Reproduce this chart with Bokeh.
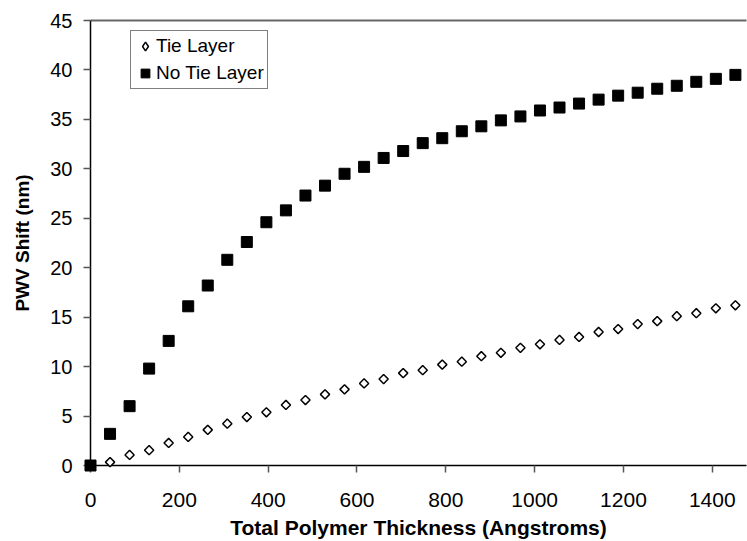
import math
from bokeh.plotting import figure
from bokeh.models import (ColumnDataSource, Range1d, FixedTicker, LinearAxis,
                          Legend, LegendItem)
from bokeh.embed import file_html
from bokeh.resources import INLINE

# ---- data ----
thickness = [0, 44, 88, 132, 176, 220, 264, 308, 352, 396, 440, 484, 528, 572,
             616, 660, 704, 748, 792, 836, 880, 924, 968, 1012, 1056, 1100,
             1144, 1188, 1232, 1276, 1320, 1364, 1408, 1452]
tie_layer = [0, 0.34, 1.07, 1.55, 2.28, 2.89, 3.6, 4.23, 4.9, 5.38, 6.12, 6.62,
             7.19, 7.7, 8.3, 8.74, 9.34, 9.64, 10.2, 10.5, 11.05, 11.4, 11.9,
             12.26, 12.7, 13.0, 13.5, 13.8, 14.3, 14.6, 15.1, 15.4, 15.9, 16.2]
no_tie_layer = [0, 3.2, 6.0, 9.8, 12.6, 16.1, 18.2, 20.8, 22.6, 24.6, 25.8,
                27.3, 28.3, 29.5, 30.2, 31.1, 31.8, 32.6, 33.1, 33.8, 34.3,
                34.9, 35.3, 35.9, 36.2, 36.6, 37.0, 37.4, 37.7, 38.1, 38.4,
                38.8, 39.1, 39.5]
series_labels = ["Tie Layer", "No Tie Layer"]
x_ticks = [0, 200, 400, 600, 800, 1000, 1200, 1400]
y_ticks = [0, 5, 10, 15, 20, 25, 30, 35, 40, 45]
x_title = "Total Polymer Thickness (Angstroms)"
y_title = "PWV Shift (nm)"

src = ColumnDataSource(dict(x=thickness, tie=tie_layer, notie=no_tie_layer))

FONT = "Liberation Sans"

p = figure(width=747, height=541, output_backend="svg", toolbar_location=None,
           x_range=Range1d(0, 1477), y_range=Range1d(0, 45),
           min_border_left=90, min_border_right=1, min_border_top=20,
           min_border_bottom=75)
p.xgrid.visible = False
p.ygrid.visible = False
p.outline_line_color = None
p.background_fill_color = "white"
p.border_fill_color = "white"

r_tie = p.scatter("x", "tie", source=src, marker="square", size=6.5,
                  angle=math.pi / 4, fill_color="white", line_color="black",
                  line_width=1.5, level="overlay")
r_notie = p.scatter("x", "notie", source=src, marker="square", size=11,
                    fill_color="black", line_color="black", line_width=1,
                    level="overlay")
# proxy renderer only used to draw a diamond symbol in the legend
r_tie_legend = p.scatter("x", "tie", source=src, marker="diamond",
                         fill_color="white", line_color="black",
                         line_width=1.5, visible=False)

# axes
p.xaxis.ticker = FixedTicker(ticks=x_ticks)
p.yaxis.ticker = FixedTicker(ticks=y_ticks)
p.xaxis.axis_label = x_title
p.yaxis.axis_label = y_title
for ax in (p.xaxis[0], p.yaxis[0]):
    ax.axis_line_color = "black"
    ax.axis_line_width = 1.5
    ax.major_tick_line_color = "#555555"
    ax.major_tick_line_width = 1.5
    ax.major_tick_in = 0
    ax.major_tick_out = 7
    ax.minor_tick_line_color = None
    ax.major_label_text_font = FONT
    ax.major_label_text_color = "black"
    ax.axis_label_text_font = FONT
    ax.axis_label_text_font_style = "bold"
    ax.axis_label_text_color = "black"

p.xaxis.major_label_text_font_size = "21px"
p.xaxis.major_label_standoff = 20
p.xaxis.axis_label_text_font_size = "21px"
p.xaxis.axis_label_standoff = 6

p.yaxis.major_label_text_font_size = "20px"
p.yaxis.major_label_standoff = 11
p.yaxis.axis_label_text_font_size = "19px"
p.yaxis.axis_label_standoff = 14

# top border line
top = LinearAxis(ticker=FixedTicker(ticks=[]), axis_line_color="#666666",
                 axis_line_width=2, major_tick_line_color=None,
                 minor_tick_line_color=None, major_label_text_font_size="0px",
                 major_label_standoff=0, major_tick_out=0, major_tick_in=0,
                 minor_tick_out=0, minor_tick_in=0)
p.add_layout(top, "above")

legend = Legend(items=[LegendItem(label=series_labels[0], renderers=[r_tie_legend]),
                       LegendItem(label=series_labels[1], renderers=[r_notie])],
                location=(40, 376), orientation="vertical",
                label_text_font=FONT, label_text_font_size="19px",
                label_text_color="black",
                glyph_width=22, glyph_height=24, label_height=24,
                label_standoff=0, spacing=3, padding=3, margin=0,
                border_line_color="black", border_line_width=1.2,
                background_fill_color="white", background_fill_alpha=1.0,
                click_policy="none")
p.add_layout(legend, "center")

open("out.html", "w").write(file_html(p, INLINE))
